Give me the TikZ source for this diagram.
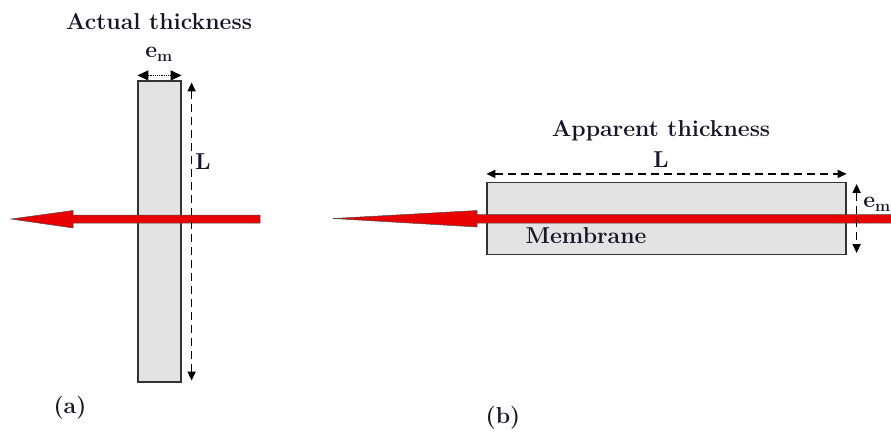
\documentclass[tikz,border=0pt]{standalone}
\usetikzlibrary{arrows.meta}
\definecolor{flowred}{RGB}{232,0,0}
\definecolor{inkblue}{RGB}{22,22,40}
\tikzset{
  membrane/.style={draw=black!80,fill=black!11,line width=1.2pt,inner sep=0pt},
  dimline/.style={line width=1.6pt,{Triangle[length=9pt,width=8pt]}-{Triangle[length=9pt,width=8pt]}},
  dashline/.style={dimline,dash pattern=on 8pt off 5pt},
  lbl/.style={font=\fontsize{23}{26}\selectfont\bfseries,text=inkblue,inner sep=0pt},
  flow/.style={fill=flowred,draw=black!70,line width=0.5pt}
}
\begin{document}
\begin{tikzpicture}[x=1pt,y=-1pt]
\useasboundingbox (0,0) rectangle (891,432);
% (a) actual thickness
\node[membrane,minimum width=43pt,minimum height=301pt] (memA) at (159.5,231.5) {};
\draw[flow] (260,215) -- (73,215) -- (73,210.5) -- (11,219) -- (73,228) -- (73,223) -- (260,223) -- cycle;
\draw[dashline] ([xshift=10pt,yshift=-2pt]memA.north east) -- ([xshift=10pt,yshift=2pt]memA.south east);
\draw[line width=1.2pt,densely dotted,{Triangle[length=11pt,width=10pt]}-{Triangle[length=11pt,width=10pt]}] ([yshift=5pt]memA.north west) -- ([yshift=5pt]memA.north east);
\node[lbl] (actual) at (159,22) {Actual thickness};
\node[lbl] (emA) at (159,54) {e\textsubscript{m}};
\node[lbl] (LA) at (203,162) {L};
\node[lbl] (capA) at (70,408) {(a)};
% (b) apparent thickness
\node[membrane,minimum width=359pt,minimum height=72pt] (memB) at (666.5,218.5) {};
\draw[flow] (891,214.5) -- (477,214.5) -- (477,210.5) -- (333,218.5) -- (477,227) -- (477,223) -- (891,223) -- cycle;
\draw[dashline] ([yshift=8pt]memB.north west) -- ([yshift=8pt]memB.north east);
\draw[dashline] ([xshift=10pt,yshift=-2pt]memB.north east) -- ([xshift=10pt,yshift=2pt]memB.south east);
\node[lbl] (apparent) at (661,131) {Apparent thickness};
\node[lbl] (LB) at (661,160) {L};
\node[lbl] (emB) at (877,204) {e\textsubscript{m}};
\node[lbl] (mname) at (586,236) {Membrane};
\node[lbl] (capB) at (503,418) {(b)};
\end{tikzpicture}
\end{document}
